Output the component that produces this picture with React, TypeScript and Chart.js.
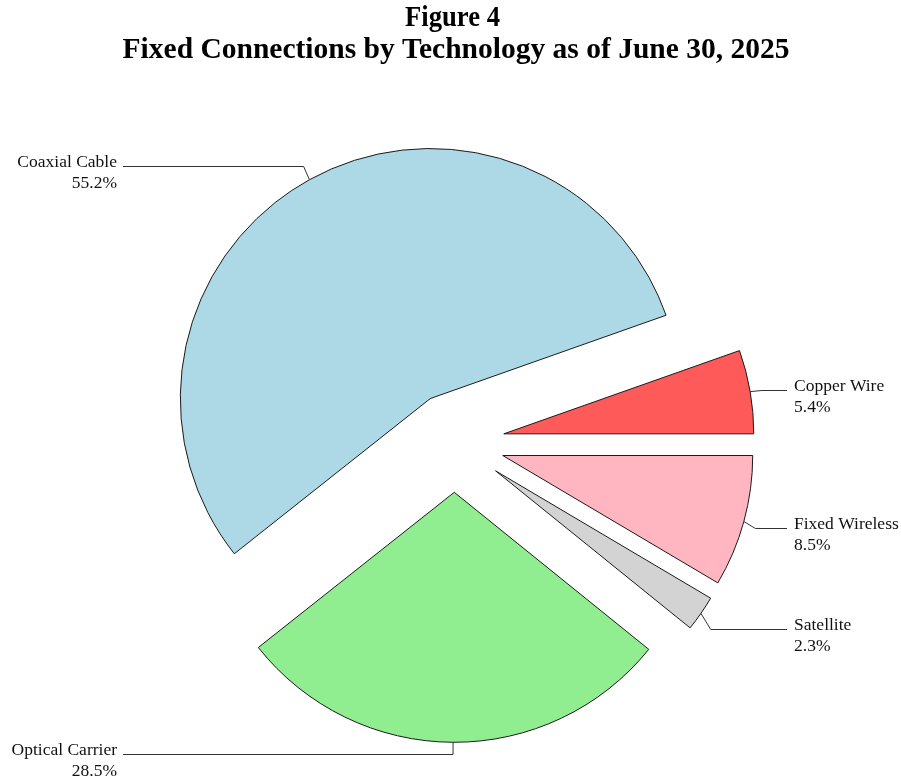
import React, { useEffect, useRef } from "react";
import { Chart, registerables } from "chart.js";

Chart.register(...registerables);

// Data (clockwise from 3 o'clock)
const categories = ["Fixed Wireless", "Satellite", "Optical Carrier", "Coaxial Cable", "Copper Wire"];
const shares = [8.5, 2.3, 28.5, 55.2, 5.4];
const sliceColors = ["#FFB6C1", "#D3D3D3", "#90EE90", "#ADD8E6", "#FF5A5A"];
const titleLines = ["Figure 4", "Fixed Connections by Technology as of June 30, 2025"];

// Layout constants
const EXPLODE = 50;
const RADIUS = 250;
const LEADER_OUT = 12;
const LEADER_NUDGE = [3, 9, 0, -3, 0];
const LINE_END_RIGHT = 787;
const LINE_END_LEFT = 123;
const TEXT_RIGHT_X = 794;
const TEXT_LEFT_X = 117;
const LABEL_FONT = "17.5px 'Liberation Serif', 'Times New Roman', serif";
const LABEL_LINE_GAP = 20.5;
const TITLE_FONT = "bold 29.5px 'Liberation Serif', 'Times New Roman', serif";
const TITLE_BASELINES = [26, 58];
const TITLE_CENTERS = [452.5, 456];
const TITLE_WIDTHS = [95, 668];

const explodePlugin = {
  id: "explodeSlices",
  afterDatasetUpdate(chart: any, args: any) {
    const meta = args.meta;
    meta.data.forEach((arc: any) => {
      const mid = (arc.startAngle + arc.endAngle) / 2;
      arc.x = arc.x + Math.cos(mid) * EXPLODE;
      arc.y = arc.y + Math.sin(mid) * EXPLODE;
    });
  },
};

const titlePlugin = {
  id: "figureTitle",
  afterDraw(chart: any) {
    const ctx = chart.ctx;
    ctx.save();
    ctx.font = TITLE_FONT;
    ctx.fillStyle = "#000";
    ctx.textAlign = "center";
    ctx.textBaseline = "alphabetic";
    titleLines.forEach((line, i) => {
      ctx.fillText(line, TITLE_CENTERS[i], TITLE_BASELINES[i], TITLE_WIDTHS[i]);
    });
    ctx.restore();
  },
};

const labelPlugin = {
  id: "leaderLabels",
  afterDatasetsDraw(chart: any) {
    const ctx = chart.ctx;
    const meta = chart.getDatasetMeta(0);
    ctx.save();
    ctx.font = LABEL_FONT;
    ctx.textBaseline = "alphabetic";
    meta.data.forEach((arc: any, i: number) => {
      const mid = (arc.startAngle + arc.endAngle) / 2;
      const r = arc.outerRadius;
      const ex = arc.x + Math.cos(mid) * r;
      const ey = arc.y + Math.sin(mid) * r;
      const bx = ex + Math.cos(mid) * LEADER_OUT;
      const by = Math.round(ey + Math.sin(mid) * LEADER_OUT + LEADER_NUDGE[i]) + 0.5;
      const right = Math.cos(mid) >= 0.05;
      const endX = right ? LINE_END_RIGHT : LINE_END_LEFT;
      ctx.strokeStyle = "#333";
      ctx.lineWidth = 1;
      ctx.beginPath();
      ctx.moveTo(ex, ey);
      ctx.lineTo(bx, by);
      ctx.lineTo(endX, by);
      ctx.stroke();
      ctx.fillStyle = "#111";
      ctx.textAlign = right ? "left" : "right";
      const tx = right ? TEXT_RIGHT_X : TEXT_LEFT_X;
      const value = chart.data.datasets[0].data[i] as number;
      ctx.fillText(chart.data.labels[i], tx, by + 0.5);
      ctx.fillText(value.toFixed(1) + "%", tx, by + 0.5 + LABEL_LINE_GAP);
    });
    ctx.restore();
  },
};

export default function App() {
  const ref = useRef<HTMLCanvasElement | null>(null);
  useEffect(() => {
    if (!ref.current) return;
    const chart = new Chart(ref.current, {
      type: "pie",
      data: {
        labels: categories,
        datasets: [
          {
            data: shares,
            backgroundColor: sliceColors,
            borderColor: "#1a1a1a",
            borderWidth: 1,
          },
        ],
      },
      options: {
        responsive: false,
        animation: false,
        events: [],
        rotation: 90,
        radius: RADIUS,
        layout: { padding: { left: 8, right: 0, top: 105.6, bottom: 0 } },
        plugins: {
          legend: { display: false },
          tooltip: { enabled: false },
          title: { display: false },
        },
      },
      plugins: [explodePlugin, labelPlugin, titlePlugin],
    });
    return () => chart.destroy();
  }, []);
  return (
    <div style={{ position: "absolute", left: 0, top: 0, width: 901, height: 779, background: "#fff" }}>
      <canvas ref={ref} width={901} height={779} />
    </div>
  );
}
